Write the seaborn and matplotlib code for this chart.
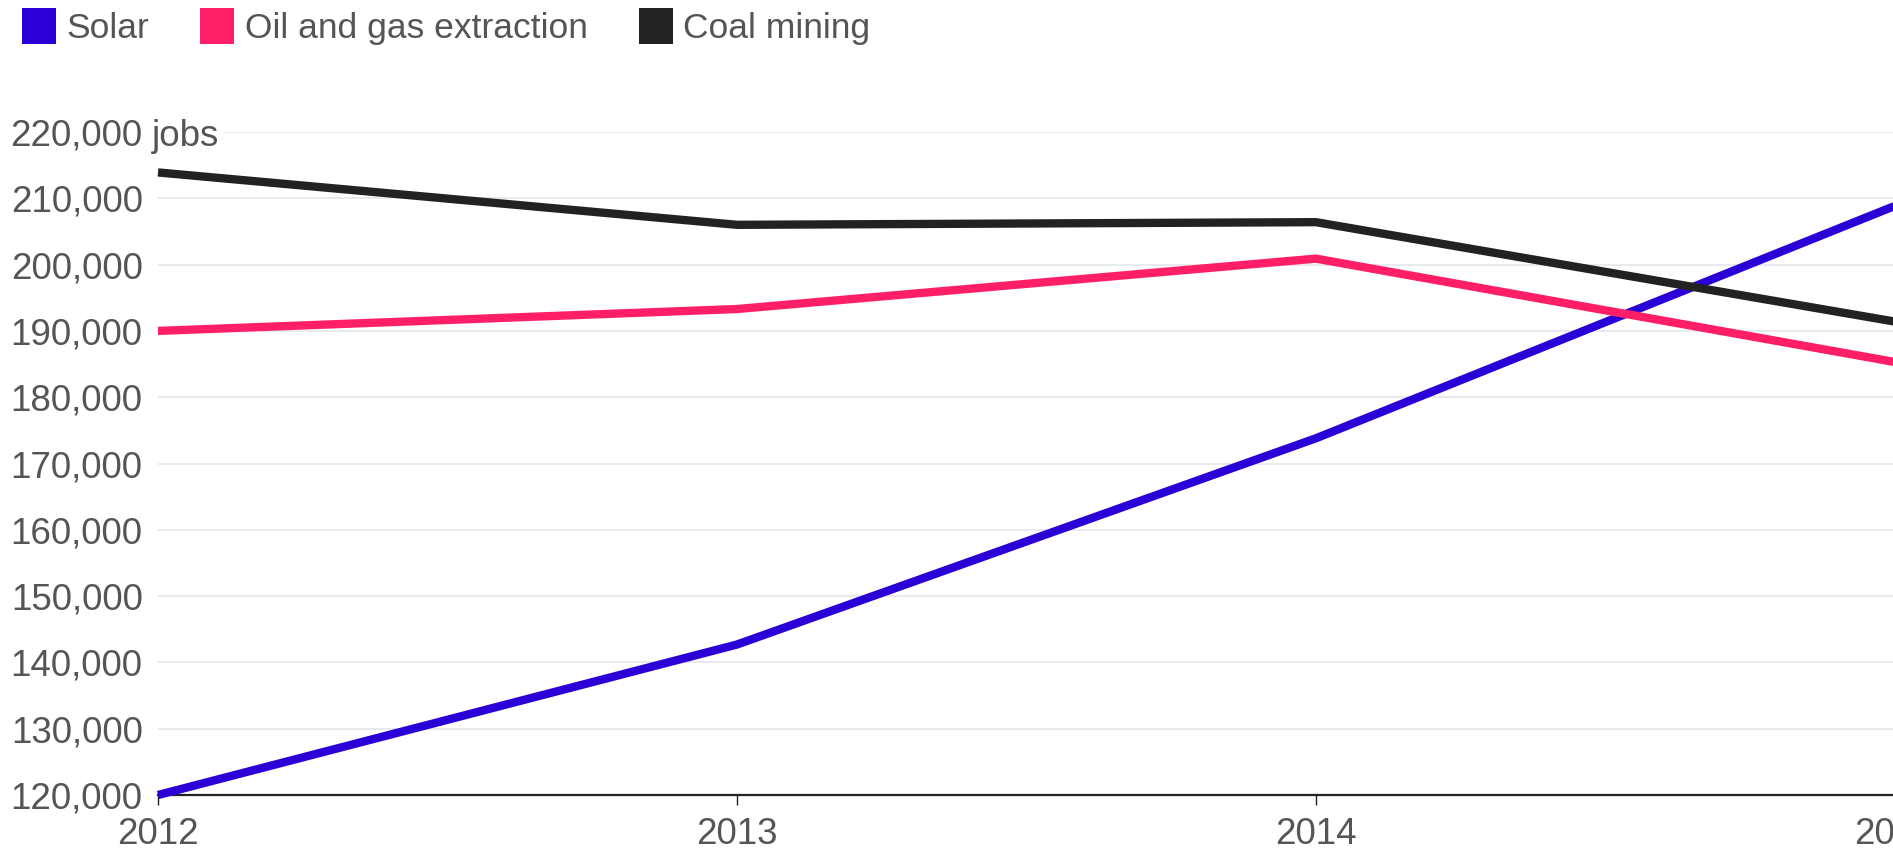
import matplotlib
matplotlib.use("Agg")
import matplotlib.pyplot as plt
import matplotlib.ticker as mticker
import matplotlib.transforms as mtrans
from matplotlib.patches import Patch
import seaborn as sns
import pandas as pd

years = [2012, 2013, 2014, 2015]
solar = [120000, 142698, 173807, 208859]
oil_gas = [190000, 193300, 200900, 185300]
coal = [213900, 206000, 206400, 191400]
series_names = ["Solar", "Oil and gas extraction", "Coal mining"]
colors = ["#2a00d6", "#ff1f66", "#222222"]
y_ticks = list(range(120000, 230000, 10000))
x_ticks = [2012, 2013, 2014, 2015]

df = pd.DataFrame({
    "year": years * 3,
    "jobs": solar + oil_gas + coal,
    "series": [series_names[0]] * 4 + [series_names[1]] * 4 + [series_names[2]] * 4,
})

sns.set_theme(style="white")
plt.rcParams["font.family"] = ["Liberation Sans", "DejaVu Sans"]

W, H = 1893, 856
fig = plt.figure(figsize=(W / 100, H / 100), dpi=100)
left_px, right_px, top_px, bot_px = 158, 1895, 132, 795
ax = fig.add_axes([left_px / W, (H - bot_px) / H, (right_px - left_px) / W, (bot_px - top_px) / H])

sns.lineplot(data=df, x="year", y="jobs", hue="series", palette=colors,
             hue_order=series_names, linewidth=6.0, ax=ax, legend=False,
             solid_capstyle="butt", zorder=5)
for ln in ax.lines:
    ln.set_clip_on(False)

ax.set_xlim(2012, 2015)
ax.set_ylim(120000, 220000)
ax.set_xticks(x_ticks)
ax.set_yticks(y_ticks)
ax.yaxis.set_major_formatter(mticker.FuncFormatter(lambda v, p: f"{int(v):,}"))
ax.set_xlabel("")
ax.set_ylabel("")

for s in ["top", "right", "left"]:
    ax.spines[s].set_visible(False)
ax.spines["bottom"].set_color("#222222")
ax.spines["bottom"].set_linewidth(1.6)
ax.spines["bottom"].set_zorder(4)

ax.grid(axis="y", color="#e3e6eb", linewidth=1.2, zorder=0)
ax.grid(axis="x", visible=False)
ax.set_axisbelow(True)

ax.tick_params(axis="x", bottom=True, length=7.5, width=1.0, color="#222222",
               labelsize=26.5, labelcolor="#555555", pad=8, direction="out")
ax.tick_params(axis="y", left=False, length=0, labelsize=26.5,
               labelcolor="#555555", pad=11)

ax.text(152, 220000, "jobs",
        transform=mtrans.blended_transform_factory(mtrans.IdentityTransform(), ax.transData),
        fontsize=26.5, color="#555555", ha="left", va="center_baseline", clip_on=False, zorder=2,
        bbox=dict(facecolor="white", edgecolor="none", pad=3))

handles = [Patch(facecolor=c, edgecolor="none") for c in colors]
fig.legend(handles=handles, labels=series_names, loc="upper left",
           bbox_to_anchor=(22 / W, 1 - 8 / H), ncol=3, frameon=False,
           fontsize=25.5, labelcolor="#555555", handlelength=0.95, handleheight=1.2,
           handletextpad=0.3, columnspacing=1.45, borderpad=0, borderaxespad=0)

fig.savefig("out.png", dpi=100)
